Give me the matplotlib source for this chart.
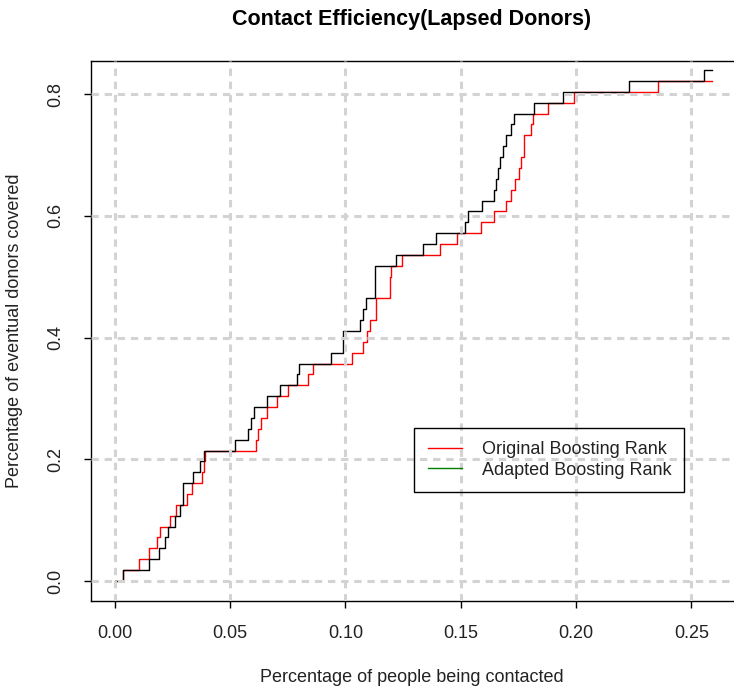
import numpy as np
import matplotlib
matplotlib.use("Agg")
from matplotlib import pyplot as plt
from matplotlib.lines import Line2D

plt.rcParams['font.family'] = ['Liberation Sans', 'DejaVu Sans']

total_donors = 56

# share of people contacted at each step, and donors covered by then
orig_x = [0.000, 0.0033, 0.0104, 0.0148, 0.0182, 0.0196, 0.0238, 0.0264, 0.0312,
          0.0333, 0.0377, 0.0385, 0.0391, 0.0612, 0.0622, 0.0633, 0.0658, 0.0701,
          0.0752, 0.0839, 0.0860, 0.1029, 0.1077, 0.1095, 0.1105, 0.1134, 0.1192,
          0.1199, 0.1247, 0.1408, 0.1484, 0.1589, 0.1646, 0.1697, 0.1716, 0.1737,
          0.1752, 0.1762, 0.1776, 0.1805, 0.1813, 0.1877, 0.1990, 0.2354, 0.2592]
orig_n = [0, 1, 2, 3, 4, 5, 6, 7, 8,
          9, 10, 11, 12, 13, 14, 15, 16, 17,
          18, 19, 20, 21, 22, 23, 24, 26, 28,
          29, 30, 31, 32, 33, 34, 35, 36, 37,
          38, 39, 41, 42, 43, 44, 45, 46, 46]

adapt_x = [0.000, 0.0033, 0.0148, 0.0192, 0.0216, 0.0229, 0.0260, 0.0281, 0.0294,
           0.0338, 0.0369, 0.0387, 0.0521, 0.0579, 0.0589, 0.0603, 0.0661, 0.0716,
           0.0791, 0.0800, 0.0939, 0.0990, 0.1062, 0.1078, 0.1088, 0.1127, 0.1221,
           0.1336, 0.1394, 0.1519, 0.1531, 0.1592, 0.1646, 0.1654, 0.1661, 0.1672,
           0.1683, 0.1697, 0.1716, 0.1729, 0.1817, 0.1942, 0.2231, 0.2555, 0.2592]
adapt_n = [0, 1, 2, 3, 4, 5, 6, 7, 9,
           10, 11, 12, 13, 14, 15, 16, 17, 18,
           19, 20, 21, 23, 24, 25, 26, 29, 30,
           31, 32, 33, 34, 35, 36, 37, 38, 39,
           40, 41, 42, 43, 44, 45, 46, 47, 47]

x_ticks = [0.00, 0.05, 0.10, 0.15, 0.20, 0.25]
y_ticks = [0.0, 0.2, 0.4, 0.6, 0.8]

orig_y = np.array(orig_n) / total_donors
adapt_y = np.array(adapt_n) / total_donors

W, H = 734, 687
fig = plt.figure(figsize=(W / 100, H / 100), dpi=100)
ax = fig.add_axes([91 / W, (H - 601) / H, (736 - 91) / W, (601 - 61) / H])

ax.plot(orig_x, orig_y, drawstyle='steps-post', color='red', lw=1.0)
ax.plot(adapt_x, adapt_y, drawstyle='steps-post', color='black', lw=1.0)

ax.set_xlim(-0.0104, 0.2694)
ax.set_ylim(-0.0329, 0.8543)
ax.set_xticks(x_ticks)
ax.set_xticklabels(['%.2f' % v for v in x_ticks])
ax.set_yticks(y_ticks)
ax.set_yticklabels(['%.1f' % v for v in y_ticks])
ax.tick_params(direction='out', length=5, width=1, labelsize=13, pad=12,
               colors='black')
ax.tick_params(axis='x', labelcolor='#222222')
ax.tick_params(axis='y', labelrotation=90, labelcolor='#222222', pad=14)
for lab in ax.get_yticklabels():
    lab.set_va('center')

for s in ax.spines.values():
    s.set_linewidth(1.0)

# grid drawn on top of the curves
ax.set_axisbelow(False)
ax.grid(True, color='#d3d3d3', lw=2.2, linestyle=(0, (2.4, 1.9)))

leg = ax.legend(handles=[Line2D([], [], color='red', lw=1),
                         Line2D([], [], color='green', lw=1)],
                labels=['Original Boosting Rank', 'Adapted Boosting Rank'],
                loc='center left',
                bbox_to_anchor=(414 / W, (H - 492) / H, 270 / W, 64 / H),
                bbox_transform=fig.transFigure, mode='expand', borderaxespad=0,
                fancybox=False, framealpha=1, edgecolor='black', facecolor='none',
                fontsize=13, handlelength=1.9, handletextpad=1.1, labelspacing=0.2,
                borderpad=0.75)
leg.get_frame().set_linewidth(1.0)
for t in leg.get_texts():
    t.set_color('#222222')

fig.text(412 / W, 1 - 20 / H, 'Contact Efficiency(Lapsed Donors)', ha='center',
         va='center', fontsize=15.5, fontweight='bold')
fig.text(412 / W, 1 - 678 / H, 'Percentage of people being contacted', ha='center',
         va='center', fontsize=13, color='#222222')
fig.text(15 / W, 1 - 331 / H, 'Percentage of eventual donors covered', ha='center',
         va='center', rotation=90, fontsize=13, color='#222222')

fig.savefig('out.png', dpi=100)
